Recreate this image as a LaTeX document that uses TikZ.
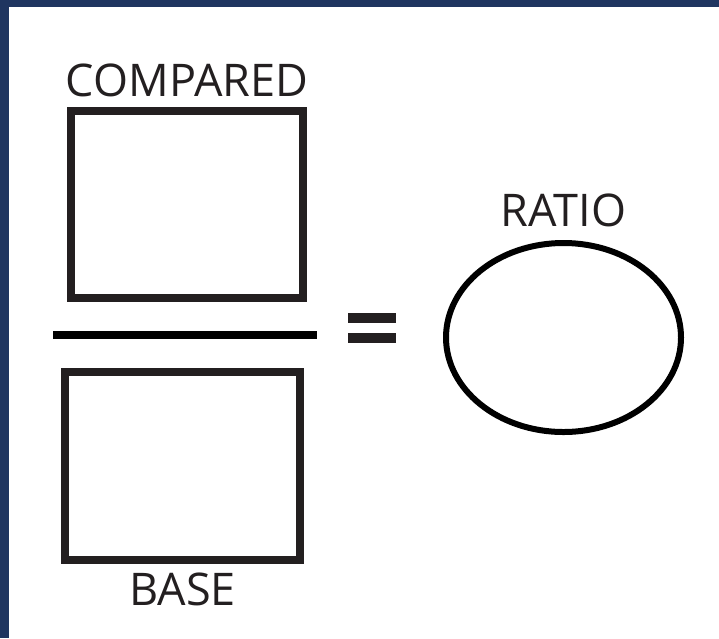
\documentclass[tikz,border=0pt]{standalone}
\usepackage{fontspec}
\setmainfont{Open Sans}
\usepackage{xcolor}
\usetikzlibrary{shapes.geometric,positioning}

\definecolor{navy}{HTML}{1F3560}
\definecolor{ink}{HTML}{231F20}

\begin{document}
\begin{tikzpicture}[x=1pt, y=-1pt, every node/.style={inner sep=0pt}]
        \tikzstyle{box} = [rectangle, draw=ink, line width=8pt]
        \tikzstyle{lbl} = [text=ink, font=\fontsize{45}{54}\selectfont]
        \tikzstyle{bar} = [draw=ink, line width=10pt]

        % page and frame
        \useasboundingbox (0,0) rectangle (719,638);
        \fill[navy] (0,0) rectangle (719,638);
        \fill[white] (9,7) rectangle (719,638);

        \node (compared) [box, minimum width=232pt, minimum height=187pt] at (187,204.5) {};
        \node (base) [box, minimum width=235pt, minimum height=188pt] at (182.5,466) {};
        \node (ratio) [ellipse, draw=black, line width=6pt, minimum width=235pt, minimum height=189pt] at (563.5,337.5) {};

        \node (comparedlbl) [lbl, above=10pt of compared] {COMPARED};
        \node (baselbl) [lbl, below=9pt of base] {BASE};
        \node (ratiolbl) [lbl, above=13pt of ratio] {RATIO};

        % fraction line and equals sign
        \draw[black, line width=8pt] (53,335) -- (317,335);
        \draw[bar] (348,318) -- (396,318);
        \draw[bar] (348,338) -- (396,338);
    \end{tikzpicture}
\end{document}
